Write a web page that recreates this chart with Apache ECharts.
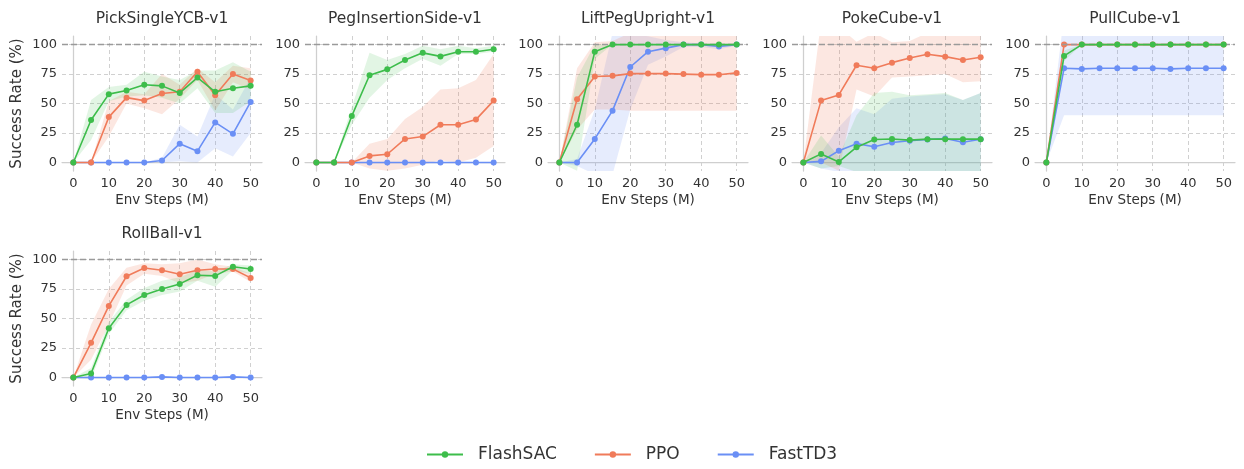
<!DOCTYPE html>
<html>
<head>
<meta charset="utf-8">
<script src="https://cdn.jsdelivr.net/npm/echarts@6/dist/echarts.min.js"></script>
<style>html,body{margin:0;padding:0;background:#fff;}#c{width:1244px;height:469px;}</style>
</head>
<body>
<div id="c"></div>
<script>
// ---------- data ----------
const steps = [0, 5, 10, 15, 20, 25, 30, 35, 40, 45, 50];
const xTicks = [0, 10, 20, 30, 40, 50];
const yTicks = [0, 25, 50, 75, 100];
const methods = ['FlashSAC', 'PPO', 'FastTD3'];
const titles = ['PickSingleYCB-v1', 'PegInsertionSide-v1', 'LiftPegUpright-v1', 'PokeCube-v1', 'PullCube-v1', 'RollBall-v1'];

// PickSingleYCB-v1
const pick_flash    = [0, 36, 58, 61, 66, 65, 59, 72, 60, 63, 65];
const pick_flash_lo = [0, 19, 52, 56, 57, 55, 50, 63, 42, 42, 52];
const pick_flash_hi = [0, 53, 64, 66, 77, 73, 70, 78, 78, 85, 77];
const pick_ppo      = [0, 0, 38.5, 55, 52.5, 58.5, 60, 77, 57, 75, 69.5];
const pick_ppo_lo   = [0, 0, 22, 50, 46, 41, 54, 70, 44, 68, 62];
const pick_ppo_hi   = [0, 0, 52, 60, 58, 75, 66, 80, 68, 82, 80];
const pick_fast     = [0, 0, 0, 0, 0, 1.7, 16, 9.6, 34, 24.3, 51.4];
const pick_fast_lo  = [0, 0, 0, 0, 0, 0, 1, 0, 12, 5, 25];
const pick_fast_hi  = [0, 0, 0, 0, 0, 4, 32, 22, 58, 45, 72];

// PegInsertionSide-v1
const peg_flash    = [0, 0, 39.5, 74, 79, 87, 93, 90, 94, 94, 96];
const peg_flash_lo = [0, 0, 32, 55, 70, 80, 88, 82, 92, 92, 94];
const peg_flash_hi = [0, 0, 47, 93, 87, 92, 99, 96, 99, 97, 99];
const peg_ppo      = [0, 0, 0, 5.6, 7, 20, 22, 32, 32, 36.4, 52.5];
const peg_ppo_lo   = [0, 0, 0, -5, -7, -5, -2, 2, 0, 4, 14];
const peg_ppo_hi   = [0, 0, 0, 16, 20, 37, 47, 62, 63, 70, 92];
const peg_fast     = [0, 0, 0, 0, 0, 0, 0, 0, 0, 0, 0];
const peg_fast_lo  = [0, 0, 0, 0, 0, 0, 0, 0, 0, 0, 0];
const peg_fast_hi  = [0, 0, 0, 0, 0, 0, 0, 0, 0, 0, 0];

// LiftPegUpright-v1
const lift_flash    = [0, 32, 94, 100, 100, 100, 100, 100, 100, 100, 100];
const lift_flash_lo = [0, -7, 88, 100, 100, 100, 100, 100, 100, 100, 100];
const lift_flash_hi = [0, 72, 100, 100, 100, 100, 100, 100, 100, 100, 100];
const lift_ppo      = [0, 53.7, 73, 73.5, 75.4, 75.4, 75.4, 75, 74.5, 74.5, 76];
const lift_ppo_lo   = [0, 28, 45, 45, 44, 44, 44, 44, 44, 44, 44];
const lift_ppo_hi   = [0, 80, 102, 103, 110, 110, 108, 108, 108, 110, 110];
const lift_fast     = [0, 0, 20, 44, 81, 94, 97, 100, 100, 98.5, 100];
const lift_fast_lo  = [0, -3, -10, -10, 45, 83, 90, 98, 98, 96, 99];
const lift_fast_hi  = [0, 3, 45, 110, 110, 107, 104, 102, 101, 101, 101];

// PokeCube-v1
const poke_flash    = [0, 7.3, 0.5, 13, 19.5, 20, 19, 19.8, 19.8, 19.8, 19.8];
const poke_flash_lo = [0, -5, -3, -8, -8, -8, -8, -8, -8, -8, -8];
const poke_flash_hi = [0, 23, 5, 40, 59, 60, 57, 58, 59, 53, 59];
const poke_ppo      = [0, 52.5, 57.3, 82.5, 80, 84.7, 88.7, 91.8, 89.8, 87, 89.3];
const poke_ppo_lo   = [0, 0, -7, 62, 56, 72, 73, 74, 75, 68, 69];
const poke_ppo_hi   = [0, 120, 115, 102.5, 110, 102, 103, 110, 110, 110, 110];
const poke_fast     = [0, 1, 10, 16, 13.3, 17, 18.4, 19.5, 20.3, 17.2, 19.8];
const poke_fast_lo  = [0, -5, -8, -8, -8, -8, -8, -8, -8, -8, -8];
const poke_fast_hi  = [0, 8, 30, 46, 41, 54, 56, 57, 58, 53, 59];

// PullCube-v1
const pull_flash    = [0, 90.4, 100, 100, 100, 100, 100, 100, 100, 100, 100];
const pull_flash_lo = [0, 86, 100, 100, 100, 100, 100, 100, 100, 100, 100];
const pull_flash_hi = [0, 95, 100, 100, 100, 100, 100, 100, 100, 100, 100];
const pull_ppo      = [0, 100, 100, 100, 100, 100, 100, 100, 100, 100, 100];
const pull_ppo_lo   = [0, 100, 100, 100, 100, 100, 100, 100, 100, 100, 100];
const pull_ppo_hi   = [0, 100, 100, 100, 100, 100, 100, 100, 100, 100, 100];
const pull_fast     = [0, 80, 79.4, 80, 80, 80, 80, 79.4, 80, 80, 80];
const pull_fast_lo  = [0, 40, 40, 40, 40, 40, 40, 40, 40, 40, 40];
const pull_fast_hi  = [0, 125, 125, 125, 125, 125, 125, 125, 125, 125, 125];

// RollBall-v1
const roll_flash    = [0, 3.4, 41.8, 61.6, 70, 75, 79.4, 86.7, 86.2, 94, 92];
const roll_flash_lo = [0, -1, 37, 57, 65, 70, 73, 82, 77, 91, 88];
const roll_flash_hi = [0, 8, 47, 66, 76, 82, 85, 91, 90, 96, 95];
const roll_ppo      = [0, 29.4, 60.7, 85.9, 92.9, 91, 87.6, 91, 92, 92, 84.5];
const roll_ppo_lo   = [0, 15, 45, 78, 88, 86, 80, 82, 88, 90, 81];
const roll_ppo_hi   = [0, 45, 75, 93, 97, 96, 97, 100, 96, 94, 88];
const roll_fast     = [0, 0, 0, 0, 0, 0.5, 0, 0, 0, 0.5, 0];
const roll_fast_lo  = [0, -0.5, -0.5, -0.5, -0.5, 0, -0.5, -0.5, -0.5, 0, -0.5];
const roll_fast_hi  = [0, 0.5, 0.5, 0.5, 0.5, 1, 0.5, 0.5, 0.5, 1, 0.5];

const envData = [
  { FlashSAC: [pick_flash, pick_flash_lo, pick_flash_hi], PPO: [pick_ppo, pick_ppo_lo, pick_ppo_hi], FastTD3: [pick_fast, pick_fast_lo, pick_fast_hi] },
  { FlashSAC: [peg_flash, peg_flash_lo, peg_flash_hi], PPO: [peg_ppo, peg_ppo_lo, peg_ppo_hi], FastTD3: [peg_fast, peg_fast_lo, peg_fast_hi] },
  { FlashSAC: [lift_flash, lift_flash_lo, lift_flash_hi], PPO: [lift_ppo, lift_ppo_lo, lift_ppo_hi], FastTD3: [lift_fast, lift_fast_lo, lift_fast_hi] },
  { FlashSAC: [poke_flash, poke_flash_lo, poke_flash_hi], PPO: [poke_ppo, poke_ppo_lo, poke_ppo_hi], FastTD3: [poke_fast, poke_fast_lo, poke_fast_hi] },
  { FlashSAC: [pull_flash, pull_flash_lo, pull_flash_hi], PPO: [pull_ppo, pull_ppo_lo, pull_ppo_hi], FastTD3: [pull_fast, pull_fast_lo, pull_fast_hi] },
  { FlashSAC: [roll_flash, roll_flash_lo, roll_flash_hi], PPO: [roll_ppo, roll_ppo_lo, roll_ppo_hi], FastTD3: [roll_fast, roll_fast_lo, roll_fast_hi] }
];

// ---------- styling ----------
const colors = { FlashSAC: '#3dbd4b', PPO: '#f07b5a', FastTD3: '#6a8ff5' };
const bandColors = { FlashSAC: 'rgba(61,189,75,0.15)', PPO: 'rgba(240,123,90,0.18)', FastTD3: 'rgba(106,143,245,0.17)' };
const FONT = 'DejaVu Sans';
const TXT = '#333333';
const lefts = [62, 305, 548, 792, 1035, 62];
const tops = [36, 36, 36, 36, 36, 251];
const W = 200, H = 135;
const XMIN = -3.2, XMAX = 53.2, YMIN = -7.2, YMAX = 107.3;

function bandRender(color) {
  return function (params, api) {
    if (params.dataIndexInside !== 0) return null;
    const n = params.dataInsideLength;
    const pts = [];
    for (let k = 0; k < n; k++) pts.push(api.coord([api.value(0, k), api.value(2, k)]));
    for (let k = n - 1; k >= 0; k--) pts.push(api.coord([api.value(0, k), api.value(1, k)]));
    const cs = params.coordSys;
    return {
      type: 'polygon', shape: { points: pts }, style: { fill: color, stroke: null },
      silent: true,
      clipPath: { type: 'rect', shape: { x: cs.x, y: cs.y, width: cs.width, height: cs.height } }
    };
  };
}

const grids = [], xAxes = [], yAxes = [], titleOpts = [], series = [];
for (let i = 0; i < 6; i++) {
  grids.push({ left: lefts[i], top: tops[i], width: W, height: H, containLabel: false });
  const gridLine = { show: true, lineStyle: { color: '#d0d0d0', type: [4, 3], width: 1 } };
  xAxes.push({
    type: 'value', gridIndex: i, min: XMIN, max: XMAX,
    name: 'Env Steps (M)', nameLocation: 'middle', nameGap: 22,
    nameTextStyle: { fontFamily: FONT, fontSize: 13.5, color: TXT },
    axisLine: { show: true, lineStyle: { color: '#cfcfcf', width: 1.25 } },
    axisTick: { show: false, customValues: xTicks },
    axisLabel: { customValues: xTicks, fontFamily: FONT, fontSize: 13, color: TXT, margin: 6 },
    splitLine: gridLine
  });
  yAxes.push({
    type: 'value', gridIndex: i, min: YMIN, max: YMAX,
    name: (i === 0 || i === 5) ? 'Success Rate (%)' : '', nameLocation: 'middle', nameGap: 37,
    nameTextStyle: { fontFamily: FONT, fontSize: 15, color: TXT },
    axisLine: { show: true, lineStyle: { color: '#cfcfcf', width: 1.25 } },
    axisTick: { show: false, customValues: yTicks },
    axisLabel: { customValues: yTicks, fontFamily: FONT, fontSize: 13, color: TXT, margin: 5 },
    splitLine: gridLine
  });
  titleOpts.push({
    text: titles[i], left: lefts[i] + W / 2, top: tops[i] - 25, textAlign: 'center', padding: 0,
    textStyle: { fontFamily: FONT, fontSize: 15.5, fontWeight: 'normal', color: TXT }
  });

  const order = ['FastTD3', 'PPO', 'FlashSAC'];
  // shaded bands
  order.forEach((m) => {
    const [mean, lo, hi] = envData[i][m];
    series.push({
      type: 'custom', xAxisIndex: i, yAxisIndex: i, silent: true, clip: true,
      data: steps.map((s, k) => [s, lo[k], hi[k]]),
      encode: { x: 0, y: [1, 2] },
      renderItem: bandRender(bandColors[m]), z: 1, animation: false
    });
  });
  // mean lines
  order.forEach((m, j) => {
    const mean = envData[i][m][0];
    const s = {
      name: m, type: 'line', xAxisIndex: i, yAxisIndex: i,
      data: steps.map((st, k) => [st, mean[k]]),
      symbol: 'circle', symbolSize: 6, showSymbol: true,
      itemStyle: { color: colors[m] }, lineStyle: { color: colors[m], width: 1.6 },
      z: 3 + j, animation: false
    };
    if (j === 0) {
      s.markLine = {
        silent: true, symbol: 'none', label: { show: false }, animation: false,
        lineStyle: { color: '#9a9a9a', type: [6, 3], width: 1.3 },
        data: [{ yAxis: 100 }]
      };
    }
    series.push(s);
  });
}

const chart = echarts.init(document.getElementById('c'), null, { renderer: 'canvas' });
chart.setOption({
  backgroundColor: '#ffffff',
  animation: false,
  title: titleOpts,
  grid: grids,
  xAxis: xAxes,
  yAxis: yAxes,
  legend: {
    data: methods, left: 426, top: 446, padding: 0, itemGap: 37,
    itemWidth: 36, itemHeight: 8,
    textStyle: { fontFamily: FONT, fontSize: 17, color: TXT, padding: [0, 0, 0, 10] }
  },
  series: series
});
</script>
</body>
</html>
